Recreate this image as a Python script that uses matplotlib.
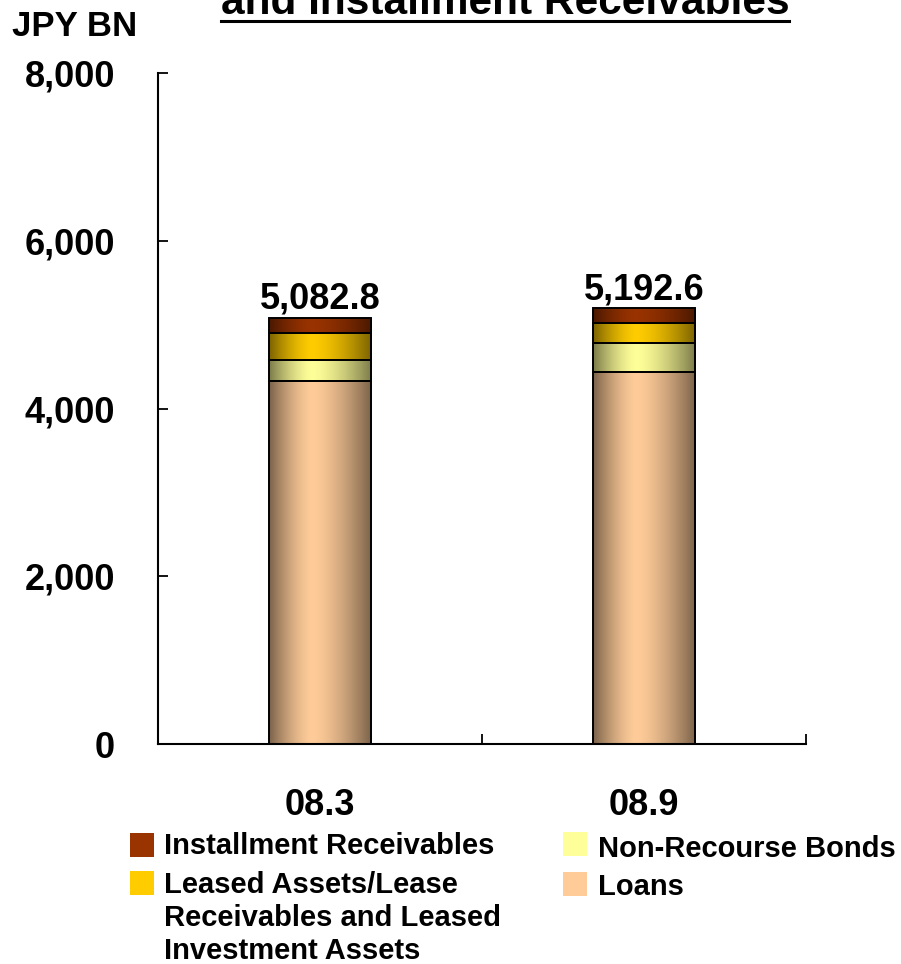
import numpy as np
import matplotlib.pyplot as plt
from matplotlib.colors import to_rgb
from matplotlib.patches import Rectangle
from matplotlib.lines import Line2D
from matplotlib.ticker import FuncFormatter

plt.rcParams['font.family'] = ['Liberation Sans', 'DejaVu Sans']
plt.rcParams['font.weight'] = 'bold'

# data (JPY BN)
periods = ['08.3', '08.9']
loans = [4329.0, 4434.0]
non_recourse = [255.0, 346.0]
leased = [320.0, 240.0]
installment = [178.8, 172.6]
totals = [5082.8, 5192.6]

series = [
    ('Loans', loans, '#FFCC99'),
    ('Non-Recourse Bonds', non_recourse, '#FFFF99'),
    ('Leased Assets/Lease\nReceivables and Leased\nInvestment Assets', leased, '#FFCC00'),
    ('Installment Receivables', installment, '#993300'),
]

# horizontal shading used on each bar (dark edges, light near centre)
t = np.linspace(0, 1, 200)
peak = 0.42
dist = np.where(t < peak, (peak - t) / peak, (t - peak) / (1 - peak))
shade = 1 - 0.52 * dist ** 1.5

W, H = 901, 964
fig = plt.figure(figsize=(W / 100, H / 100), dpi=100)
ax = fig.add_axes([158 / W, 1 - 744 / H, (806 - 158) / W, (744 - 73) / H])

x = np.arange(len(periods))
bottom = np.zeros(len(periods))
containers = []
for name, vals, col in series:
    bars = ax.bar(x, vals, width=0.315, bottom=bottom, facecolor='none',
                  edgecolor='black', linewidth=1.4, zorder=3)
    base = np.array(to_rgb(col))
    img = (shade[:, None] * base[None, :])[None, :, :]
    for p in bars.patches:
        ax.imshow(img, extent=[p.get_x(), p.get_x() + p.get_width(),
                               p.get_y(), p.get_y() + p.get_height()],
                  aspect='auto', interpolation='bilinear', zorder=2)
    containers.append(bars)
    bottom += np.array(vals)

ax.bar_label(containers[-1], labels=[f'{v:,.1f}' for v in totals],
             fontsize=26, fontweight='bold', padding=1)

ax.set_xlim(-0.5, 1.5)
ax.set_ylim(0, 8000)
ax.set_yticks(np.arange(0, 8001, 2000))
ax.yaxis.set_major_formatter(FuncFormatter(lambda v, _: f'{v:,.0f}'))
ax.tick_params(axis='y', direction='in', length=7, width=1.3, pad=31, labelsize=26)

ax.set_xticks([-0.5, 0.5, 1.5])
ax.set_xticklabels([])
ax.set_xticks(x, minor=True)
ax.set_xticklabels(periods, minor=True)
ax.tick_params(axis='x', which='major', direction='in', length=7, width=1.3)
ax.tick_params(axis='x', which='minor', length=0, pad=32, labelsize=26)

for s in ['top', 'right']:
    ax.spines[s].set_visible(False)
for s in ['left', 'bottom']:
    ax.spines[s].set_linewidth(1.5)

fig.text(12 / W, 1 - 26 / H, 'JPY BN', fontsize=25, fontweight='bold',
         ha='left', va='center')

title = fig.text(505 / W, 1 - 14 / H, 'and Installment Receivables',
                 fontsize=30.5, fontweight='bold', ha='center', va='baseline')
fig.canvas.draw()
bb = title.get_window_extent().transformed(fig.transFigure.inverted())
uy = 1 - 21 / H
fig.add_artist(Line2D([bb.x0, bb.x1], [uy, uy], color='black', linewidth=2.2,
                      transform=fig.transFigure))

# legend laid out by hand so the swatch sits beside the first line of a wrapped label
# (series index, swatch left, swatch top, text left, text top) in pixels
legend_slots = [(3, 130, 833, 164, 832), (2, 130, 871, 164, 871),
                (1, 563, 832, 598, 835), (0, 563, 872, 598, 873)]
for idx, px, py, tx, ty in legend_slots:
    name, _, col = series[idx]
    fig.add_artist(Rectangle((px / W, 1 - (py + 24) / H), 24 / W, 24 / H,
                             facecolor=col, edgecolor='none',
                             transform=fig.transFigure))
    fig.text(tx / W, 1 - ty / H, name, fontsize=21, fontweight='bold',
             ha='left', va='top', linespacing=1.22)

fig.savefig('out.png', dpi=100)
